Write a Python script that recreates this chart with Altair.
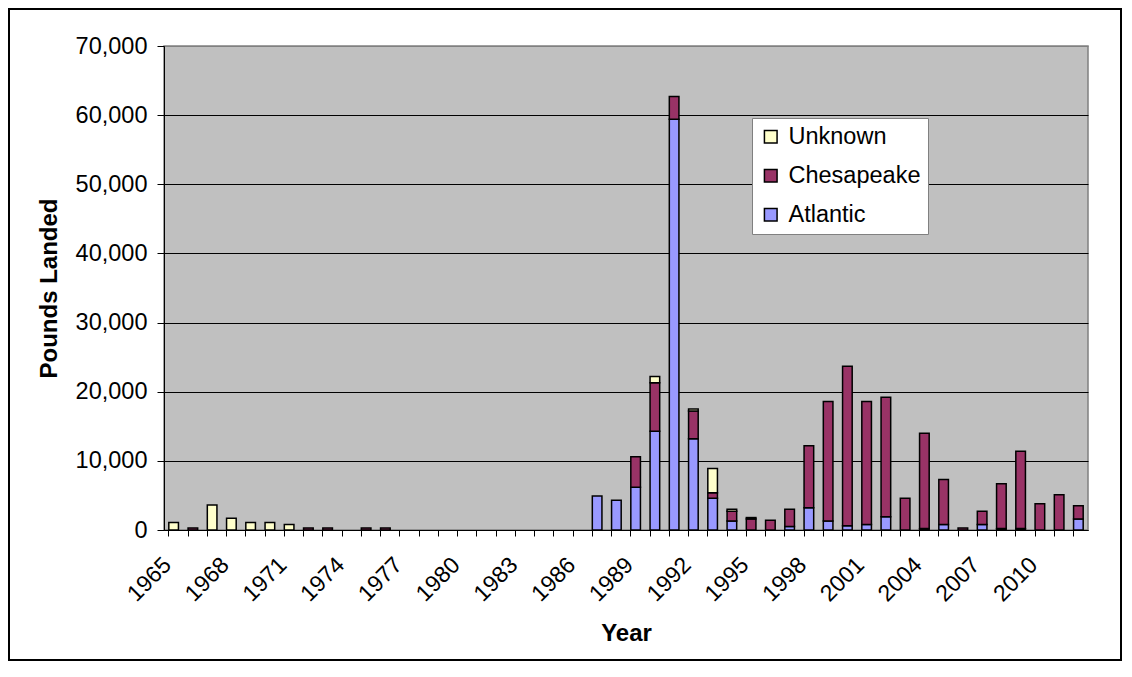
import altair as alt
import pandas as pd

years = list(range(1965, 2013))

atlantic = [0, 0, 0, 0, 0, 0, 0, 0, 0, 0, 0, 0,
            0, 0, 0, 0, 0, 0, 0, 0, 0, 0,
            4900, 4300, 6200, 14300, 59400, 13200, 4600, 1300, 0, 0,
            500, 3200, 1300, 600, 800, 1900, 0, 200, 800, 0,
            800, 200, 200, 0, 0, 1600]

chesapeake = [0, 300, 0, 0, 0, 0, 0, 300, 300, 0, 300, 300,
              0, 0, 0, 0, 0, 0, 0, 0, 0, 0,
              0, 0, 4400, 7000, 3300, 4000, 800, 1400, 1600, 1400,
              2500, 9000, 17300, 23100, 17800, 17300, 4600, 13800, 6500, 300,
              1900, 6500, 11200, 3800, 5100, 1900]

unknown = [1100, 0, 3600, 1700, 1100, 1100, 800, 0, 0, 0, 0, 0,
           0, 0, 0, 0, 0, 0, 0, 0, 0, 0,
           0, 0, 0, 900, 0, 300, 3500, 300, 200, 0,
           0, 0, 0, 0, 0, 0, 0, 0, 0, 0,
           0, 0, 0, 0, 0, 0]

regions = ["Atlantic", "Chesapeake", "Unknown"]
legend_order = ["Unknown", "Chesapeake", "Atlantic"]
legend_colors = ["#FFFFCC", "#993366", "#9999FF"]
y_ticks = [0, 10000, 20000, 30000, 40000, 50000, 60000, 70000]

rows = []
for i, yr in enumerate(years):
    for rank, (name, vals) in enumerate(zip(regions, [atlantic, chesapeake, unknown])):
        rows.append({"year": yr, "region": name, "pounds": vals[i], "rank": rank})
df = pd.DataFrame(rows)

FONT = "Liberation Sans"

bars = alt.Chart(df).transform_filter("datum.pounds > 0").mark_bar(
    stroke="black", strokeWidth=1.5
).encode(
    x=alt.X(
        "year:O",
        scale=alt.Scale(domain=years, paddingInner=0.5, paddingOuter=0.25),
        axis=alt.Axis(
            title="Year",
            labelAngle=315,
            labelAlign="right",
            labelBaseline="middle",
            labelExpr="(datum.value - 1965) % 3 == 0 ? datum.label : ''",
            labelOverlap=False,
            bandPosition=0,
            labelOffset=-6,
            labelPadding=25,
            labelFontSize=23,
            tickSize=6,
            grid=False,
            titlePadding=16,
        ),
    ),
    y=alt.Y(
        "pounds:Q",
        stack="zero",
        scale=alt.Scale(domain=[0, 70000], nice=False),
        axis=alt.Axis(
            title="Pounds Landed",
            values=y_ticks,
            format=",.0f",
            tickSize=7,
            labelPadding=10,
            titlePadding=14,
            labelFontSize=23.5,
            grid=True,
            gridColor={"condition": {"test": "datum.value >= 70000", "value": "#808080"}, "value": "black"},
            gridWidth=1,
        ),
    ),
    color=alt.Color(
        "region:N",
        scale=alt.Scale(domain=legend_order, range=legend_colors),
        legend=alt.Legend(title=None),
    ),
    order=alt.Order("rank:Q", sort="ascending"),
)

frame = alt.Chart(pd.DataFrame({"f": [0]})).mark_rect(
    filled=False, stroke="black", strokeWidth=2
).encode(
    x=alt.value(-155), x2=alt.value(957), y=alt.value(-37), y2=alt.value(614)
)

chart = alt.layer(bars, frame).properties(
    width=924, height=484, padding=0, background="white"
).configure_view(
    fill="#C0C0C0", stroke="#808080", strokeWidth=1.5
).configure_axis(
    labelFont=FONT, titleFont=FONT, titleFontSize=24,
    titleFontWeight="bold", labelColor="black", titleColor="black",
    domainColor="black", tickColor="black", domainWidth=1, tickWidth=1,
).configure_legend(
    orient="none", legendX=588, legendY=72,
    fillColor="white", strokeColor="#808080", padding=7,
    symbolType="square", symbolSize=160, symbolStrokeColor="black",
    symbolStrokeWidth=1.5, labelFont=FONT, labelFontSize=23.5,
    labelColor="black", rowPadding=14, labelOffset=6, labelLimit=300,
)

chart.save("out.html", embed_options={"renderer": "svg", "actions": False})
